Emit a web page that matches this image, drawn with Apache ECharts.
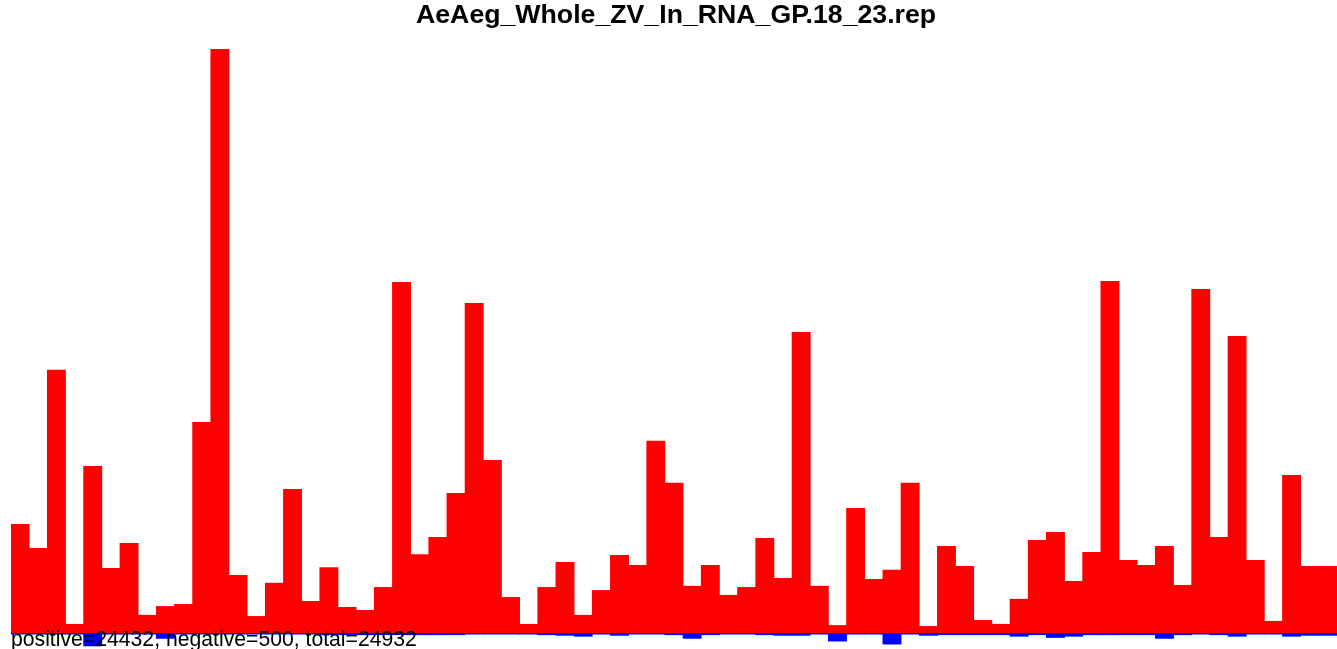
<!DOCTYPE html>
<html>
<head>
<meta charset="utf-8">
<script src="https://cdn.jsdelivr.net/npm/echarts@6/dist/echarts.min.js"></script>
<style>
html,body{margin:0;padding:0;background:#fff;}
#chart{width:1337px;height:649px;}
</style>
</head>
<body>
<div id="chart"></div>
<script>
const titleText = "AeAeg_Whole_ZV_In_RNA_GP.18_23.rep";
const footerText = "positive=24432, negative=500, total=24932";

const categories = [];
for (let i = 1; i <= 73; i++) categories.push(String(i));

const positiveCounts = [
  361, 281, 871, 30, 553, 215, 298, 60, 89, 96,
  698, 1933, 192, 56, 166, 477, 106, 218, 86, 76,
  152, 1162, 261, 318, 463, 1092, 573, 119, 30, 152,
  235, 60, 142, 258, 225, 636, 497, 156, 225, 126,
  152, 314, 182, 996, 156, 26, 414, 179, 209, 497,
  23, 288, 222, 43, 30, 113, 308, 334, 172, 268,
  1165, 242, 225, 288, 159, 1139, 318, 983, 242, 40,
  523, 222, 222
];

const negativeCounts = [
  -5, -5, -5, -5, -44, -5, -5, -5, -19, -5,
  -5, -5, -5, -5, -5, -5, -5, -7, -7, -7,
  -7, -7, -7, -7, -7, -5, -5, -5, -5, -7,
  -9, -12, -5, -9, -5, -5, -7, -19, -7, -5,
  -5, -7, -9, -9, -5, -28, -5, -5, -38, -5,
  -9, -7, -7, -7, -7, -12, -7, -16, -12, -7,
  -7, -7, -7, -19, -7, -5, -7, -12, -5, -5,
  -12, -9, -9
];

const chart = echarts.init(document.getElementById('chart'), null, {renderer: 'canvas'});
const fontFam = "'Liberation Sans', Arial, Helvetica, sans-serif";

chart.setOption({
  animation: false,
  backgroundColor: '#ffffff',
  grid: {left: 11, top: 49, width: 1329, height: 600, containLabel: false},
  xAxis: {
    type: 'category',
    data: categories,
    show: false,
    boundaryGap: true
  },
  yAxis: {
    type: 'value',
    min: -53,
    max: 1933,
    show: false,
    splitLine: {show: false}
  },
  series: [
    {
      name: 'positive',
      type: 'bar',
      data: positiveCounts,
      barWidth: 18.9,
      barGap: '-100%',
      itemStyle: {color: '#ff0000'},
      z: 2
    },
    {
      name: 'negative',
      type: 'bar',
      data: negativeCounts,
      barWidth: 18.9,
      barGap: '-100%',
      itemStyle: {color: '#0000ff'},
      z: 3
    }
  ],
  graphic: [
    {
      type: 'text',
      left: 416,
      top: 2,
      z: 10,
      style: {
        text: titleText,
        fill: '#000',
        font: 'bold 26.7px ' + fontFam
      }
    },
    {
      type: 'text',
      left: 11,
      top: 630,
      z: 10,
      style: {
        text: footerText,
        fill: '#000',
        font: '21.2px ' + fontFam
      }
    }
  ]
});
</script>
</body>
</html>
